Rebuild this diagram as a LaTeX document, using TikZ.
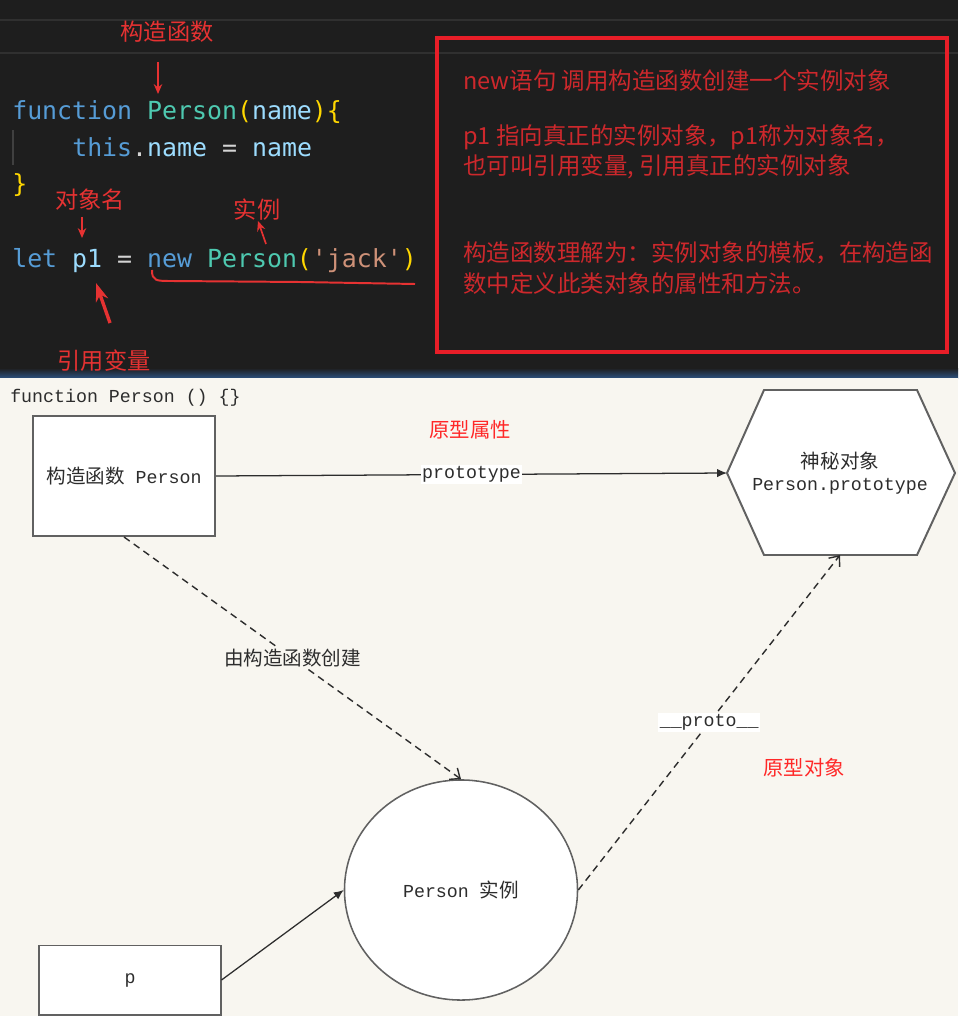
\documentclass[tikz,border=0pt]{standalone}
\usepackage{fontspec}
\setmainfont{Noto Sans CJK SC}
\setmonofont{DejaVu Sans Mono}
\newfontfamily\diagmono{Liberation Mono}
\newcommand\dmono[1]{{\diagmono\fontsize{13}{15.6}\selectfont #1}}
\definecolor{codebg}{RGB}{30,30,30}
\definecolor{gridline}{RGB}{48,48,48}
\definecolor{guidegray}{RGB}{64,64,64}
\definecolor{edgeblue}{RGB}{45,80,125}
\definecolor{kwblue}{RGB}{86,156,214}
\definecolor{typeteal}{RGB}{78,201,176}
\definecolor{varblue}{RGB}{156,220,254}
\definecolor{braceyellow}{RGB}{255,215,0}
\definecolor{strorange}{RGB}{206,145,120}
\definecolor{opgray}{RGB}{212,212,212}
\definecolor{markred}{RGB}{230,50,50}
\definecolor{boxred}{RGB}{232,30,40}
\definecolor{notered}{RGB}{205,40,44}
\definecolor{paper}{RGB}{248,246,240}
\definecolor{inkgray}{RGB}{45,45,45}
\definecolor{tagred}{RGB}{255,40,40}
\usetikzlibrary{arrows.meta,positioning,shapes.geometric}

\begin{document}
\begin{tikzpicture}[
  x=0.025cm, y=-0.025cm,
  codetxt/.style={font=\ttfamily\fontsize{17.7}{21}\selectfont, text=opgray, inner sep=0, anchor=base west},
  redlbl/.style={font=\fontsize{16.5}{20}\selectfont, text=markred, inner sep=0},
  boxnote/.style={font=\fontsize{16.7}{20}\selectfont, text=notered, inner sep=0, anchor=base west},
  markarrow/.style={-{Stealth[length=7pt,width=6pt]}, markred, line width=1.2pt},
  blockbox/.style={rectangle, draw=inkgray!75, line width=1.4pt, fill=white, text=inkgray, font=\fontsize{13.9}{16}\selectfont},
  diag/.style={text=inkgray, font=\fontsize{13.9}{15.6}\selectfont},
  redtag/.style={text=tagred, font=\fontsize{14.5}{17}\selectfont},
  link/.style={-{Latex[length=7pt,width=6pt]}, inkgray, line width=0.9pt},
  dashlink/.style={-{Straight Barb[length=6pt,width=10pt]}, inkgray, line width=1pt, dash pattern=on 5pt off 3.5pt},
  edgelbl/.style={fill=white, inner sep=1pt, text=inkgray, font=\fontsize{13.9}{16}\selectfont},
]
\useasboundingbox (0,0) rectangle (958,1016);

% Editor panel
\fill[codebg] (0,0) rectangle (958,378);
\draw[gridline, line width=0.8pt] (0,20) -- (958,20);
\draw[gridline, line width=0.8pt] (0,53) -- (958,53);
\shade[top color=codebg, bottom color=edgeblue] (0,368) rectangle (958,378);
\draw[guidegray, line width=0.8pt] (13,130) -- (13,165);

% Code
\node[codetxt] (fnline) at (12,120) {\textcolor{kwblue}{function} \textcolor{typeteal}{Person}\textcolor{braceyellow}{(}\textcolor{varblue}{name}\textcolor{braceyellow}{)\{}};
\node[codetxt] (thisline) at (72,157) {\textcolor{kwblue}{this}.\textcolor{varblue}{name} = \textcolor{varblue}{name}};
\node[codetxt] (closeline) at (12,193) {\textcolor{braceyellow}{\}}};
\node[codetxt] (letline) at (12,268) {\textcolor{kwblue}{let} \textcolor{varblue}{p1} = \textcolor{kwblue}{new} \textcolor{typeteal}{Person}\textcolor{braceyellow}{(}\textcolor{strorange}{\textquotesingle jack\textquotesingle}\textcolor{braceyellow}{)}};

% Red marks on the code
\node[redlbl] (ctorlbl) at (167,32) {构造函数};
\node[redlbl] (namelbl) at (90,200) {对象名};
\node[redlbl] (instlbl) at (257,210) {实例};
\node[redlbl] (reflbl) at (104,361) {引用变量};
\coordinate (ctortail) at (158,62);
\coordinate (ctortip) at (158,94);
\coordinate (nametail) at (82,217);
\coordinate (nametip) at (82,238);
\coordinate (insttail) at (266,244);
\coordinate (insttip) at (258,221);
\coordinate (reftail) at (110,323);
\coordinate (reftip) at (96,283);
\draw[markarrow] (ctortail) -- (ctortip);
\draw[markarrow] (nametail) -- (nametip);
\draw[markarrow] (insttail) -- (insttip);
\draw[markarrow, line width=2.4pt, -{Stealth[length=13pt,width=9pt]}] (reftail) -- (reftip);
\draw[markred, line width=1.4pt] (152,270) .. controls (152,281) and (156,281) .. (172,281) -- (300,282) -- (415,284);

% Notes
\draw[boxred, line width=2.2pt] (437,38) rectangle (947,352);
\node[boxnote] (newnote) at (463,90) {new语句 调用构造函数创建一个实例对象};
\node[boxnote] (p1note) at (463,145) {p1 指向真正的实例对象，p1称为对象名，};
\node[boxnote] (refnote) at (463,175) {也可叫引用变量, 引用真正的实例对象};
\node[boxnote] (tplnote) at (463,262) {构造函数理解为：实例对象的模板，在构造函};
\node[boxnote] (defnote) at (463,293) {数中定义此类对象的属性和方法。};

% Diagram
\fill[paper] (0,378) rectangle (958,1016);
\node[diag, inner sep=0, anchor=base west] (sig) at (10,402) {\dmono{function Person () \{\}}};
\node[blockbox, minimum width=4.55cm, minimum height=3cm] (ctor) at (124,476) {构造函数\dmono{\ Person}};
\coordinate (hexleft) at (727,473);
\coordinate (hexbottom) at (840,555);
\draw[inkgray!75, line width=1.4pt, fill=white] (764,390) -- (917,390) -- (955,473) -- (917,555) -- (764,555) -- (hexleft) -- cycle;
\node[diag, align=center] (proto) at (840,473) {神秘对象\\\dmono{Person.prototype}};
\node[ellipse, draw=inkgray!75, line width=1.1pt, fill=white, diag, minimum width=5.825cm, minimum height=5.5cm] (inst) at (461,890) {\dmono{Person\ }实例};
\node[blockbox, minimum width=4.525cm, minimum height=1.725cm] (pvar) at (130,980) {\dmono{p}};

% Links
\draw[link] (ctor.east) -- node[edgelbl] {\dmono{prototype}} (hexleft);
\draw[dashlink] (ctor.south) -- node[edgelbl, fill=paper] {由构造函数创建} (inst.north);
\draw[link] (pvar.east) -- (inst.west);
\draw[dashlink] (inst.east) -- node[edgelbl] {\dmono{\_\_proto\_\_}} (hexbottom);
\node[redtag] (protoattr) at (470,430) {原型属性};
\node[redtag] (protoobj) at (804,768) {原型对象};

\end{tikzpicture}
\end{document}
